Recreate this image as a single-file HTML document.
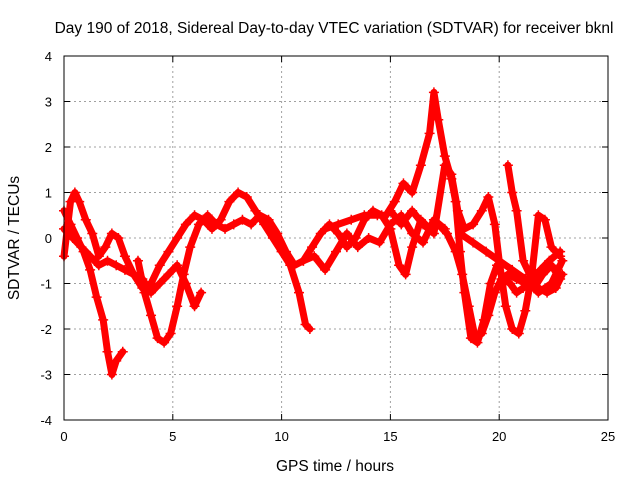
<!DOCTYPE html>
<html><head><meta charset="utf-8"><style>
html,body{margin:0;padding:0;background:#fff}
svg{display:block;font-family:"Liberation Sans",sans-serif}
</style></head><body>
<svg id="chart" width="640" height="480">
<rect x="0" y="0" width="640" height="480" fill="#fff"/>
<text x="334" y="33" font-size="15.5" text-anchor="middle">Day 190 of 2018, Sidereal Day-to-day VTEC variation (SDTVAR) for receiver bknl</text>
<g id="grid"></g>
<g id="axes"></g>
<g id="series"></g>
<rect x="64" y="56" width="544" height="364" fill="none" stroke="#000" stroke-width="1"/>
<text x="335" y="471" font-size="15.5" text-anchor="middle">GPS time / hours</text>
<text x="19" y="238" font-size="15.5" text-anchor="middle" transform="rotate(-90 19 238)">SDTVAR / TECUs</text>
</svg>
<script>
const xTicks=[0,5,10,15,20,25];
const yTicks=[-4,-3,-2,-1,0,1,2,3,4];
const trackA=[[0,0.6],[0.3,0.3],[0.6,0],[0.9,-0.3],[1.2,-0.7],[1.5,-1.3],[1.8,-1.8],[2.0,-2.5],[2.2,-3.0],[2.4,-2.7],[2.7,-2.5]];
const trackB=[[0,-0.4],[0.3,0.8],[0.5,1.0],[0.7,0.8],[1.0,0.4],[1.3,0.1],[1.6,-0.4],[1.9,-0.2],[2.2,0.1],[2.5,0],[2.8,-0.4],[3.2,-0.8],[3.6,-1.1],[4.0,-1.0],[4.4,-0.6],[4.8,-0.3],[5.2,0],[5.6,0.3],[6.0,0.5],[6.4,0.4],[6.8,0.2],[7.2,0.4],[7.6,0.8],[8.0,1.0],[8.4,0.9],[8.8,0.6],[9.2,0.3],[9.6,0],[10.0,-0.3],[10.4,-0.6],[10.8,-1.2],[11.1,-1.9],[11.3,-2.0]];
const trackC=[[0,0.2],[0.4,0],[0.8,-0.2],[1.2,-0.4],[1.6,-0.6],[2.0,-0.5],[2.4,-0.6],[2.8,-0.7],[3.2,-0.8],[3.6,-0.9],[4.0,-1.2],[4.4,-1.0],[4.8,-0.8],[5.2,-0.6],[5.6,-1.0],[6.0,-1.5],[6.3,-1.2]];
const trackD=[[3.4,-0.5],[3.7,-1.2],[4.0,-1.7],[4.3,-2.2],[4.6,-2.3],[4.9,-2.1],[5.2,-1.5],[5.5,-0.8],[5.8,-0.2],[6.2,0.3],[6.6,0.5],[7.0,0.3],[7.4,0.2],[7.8,0.3],[8.2,0.4],[8.6,0.3],[9.0,0.5],[9.4,0.4],[9.8,0.1],[10.2,-0.3],[10.6,-0.6],[11.0,-0.5],[11.4,-0.2],[11.8,0.1],[12.2,0.3],[12.6,0.1],[13.0,-0.2],[13.4,0],[13.8,0.4],[14.2,0.6],[14.6,0.5],[15.0,0.2],[15.4,-0.6],[15.7,-0.8],[16.0,-0.2],[16.4,0.4],[16.8,0.2],[17.2,0.3],[17.6,0.1],[18.0,-0.3],[18.3,-0.8],[18.6,-1.5],[18.9,-2.2],[19.2,-2.1],[19.5,-1.7],[19.8,-1.2],[20.1,-0.9],[20.4,-0.8],[20.8,-0.9],[21.2,-1.0],[21.6,-1.1],[22.0,-0.8],[22.4,-0.6],[22.8,-0.9]];
const trackE=[[12.0,0.2],[12.6,0.3],[13.2,0.4],[13.8,0.5],[14.4,0.5],[14.8,0.5],[15.2,0.8],[15.6,1.2],[16.0,1.0],[16.4,1.6],[16.8,2.3],[17.0,3.2],[17.2,2.6],[17.5,1.8],[17.8,1.3],[18.0,0.8],[18.2,-0.3],[18.4,-1.2],[18.7,-2.2],[19.0,-2.3],[19.3,-1.8],[19.6,-1.0],[19.9,-0.6],[20.2,-0.9],[20.5,-1.0],[20.8,-1.2],[21.1,-1.1],[21.5,-0.9],[21.9,-0.7],[22.3,-0.5],[22.8,-0.3]];
const trackF=[[15.0,0.6],[15.5,0.3],[16.0,0.6],[16.5,0.3],[17.0,0.1],[17.5,1.6],[17.8,1.4],[18.1,0.6],[18.4,0.2],[18.8,0.3],[19.2,0.6],[19.5,0.9],[19.8,0.3],[20.0,-0.5],[20.3,-1.5],[20.6,-2.0],[20.9,-2.1],[21.2,-1.6],[21.5,-0.8],[21.8,0.5],[22.1,0.4],[22.4,-0.2],[22.8,-0.4]];
const trackG=[[20.4,1.6],[20.6,1.0],[20.8,0.6],[21.1,-0.5],[21.4,-0.8],[21.8,-1.1],[22.2,-1.2],[22.6,-1.1],[22.9,-0.8]];
const trackH=[[18.2,0.1],[18.8,-0.1],[19.4,-0.3],[20.0,-0.5],[20.6,-0.7],[21.2,-0.9],[21.8,-1.2],[22.4,-1.0],[22.9,-0.5]];
const trackI=[[11.0,-0.5],[11.5,-0.4],[12.0,-0.7],[12.5,-0.3],[13.0,0.1],[13.5,-0.2],[14.0,0],[14.5,-0.1],[15.0,0.3],[15.5,0.5],[16.0,0.1],[16.5,-0.1],[17.0,0.4],[17.5,0.2]];
const tracks=[trackA,trackB,trackC,trackD,trackE,trackF,trackG,trackH,trackI];

const NS="http://www.w3.org/2000/svg";
const X0=64,X1=608,Y0=420,Y1=56;
function xs(v){return X0+(v-0)/(25-0)*(X1-X0);}
function ys(v){return Y0-(v+4)/8*(Y0-Y1);}
function mk(tag,attrs,parent){const e=document.createElementNS(NS,tag);for(const k in attrs)e.setAttribute(k,attrs[k]);parent.appendChild(e);return e;}
const grid=document.getElementById('grid'),axes=document.getElementById('axes'),series=document.getElementById('series');
xTicks.forEach(t=>{
  const x=xs(t);
  if(t>0&&t<25){const g=mk('line',{x1:x,y1:Y1,x2:x,y2:Y0,stroke:'#a0a0a0','stroke-dasharray':'2,3'},grid);
  
  }
  mk('line',{x1:x,y1:Y0,x2:x,y2:Y0-6,stroke:'#000'},axes);
  mk('line',{x1:x,y1:Y1,x2:x,y2:Y1+6,stroke:'#000'},axes);
  const l=mk('text',{x:x,y:Y0+21,'font-size':13,'text-anchor':'middle'},axes);
  l.textContent=t;
  
  
});
yTicks.forEach(t=>{
  const y=ys(t);
  if(t>-4&&t<4){const g=mk('line',{x1:X0,y1:y,x2:X1,y2:y,stroke:'#a0a0a0','stroke-dasharray':'2,3'},grid);
  
  }
  mk('line',{x1:X0,y1:y,x2:X0+6,y2:y,stroke:'#000'},axes);
  mk('line',{x1:X1,y1:y,x2:X1-6,y2:y,stroke:'#000'},axes);
  const l=mk('text',{x:X0-12,y:y+5,'font-size':13,'text-anchor':'end'},axes);
  l.textContent=t;
  
  
});
tracks.forEach((tr,i)=>{
  const pts=tr.map(p=>xs(p[0])+','+ys(p[1])).join(' ');
  const pl=mk('polyline',{points:pts,fill:'none',stroke:'#ff0000','stroke-width':7,'stroke-linejoin':'round','stroke-linecap':'round'},series);
  
  
  tr.forEach(p=>{
    const x=xs(p[0]),y=ys(p[1]);
    const m=mk('path',{d:`M${x-5},${y}H${x+5}M${x},${y-5}V${y+5}`,stroke:'#ff0000','stroke-width':1.5},series);
    
    
  });
});
</script>
</body></html>
